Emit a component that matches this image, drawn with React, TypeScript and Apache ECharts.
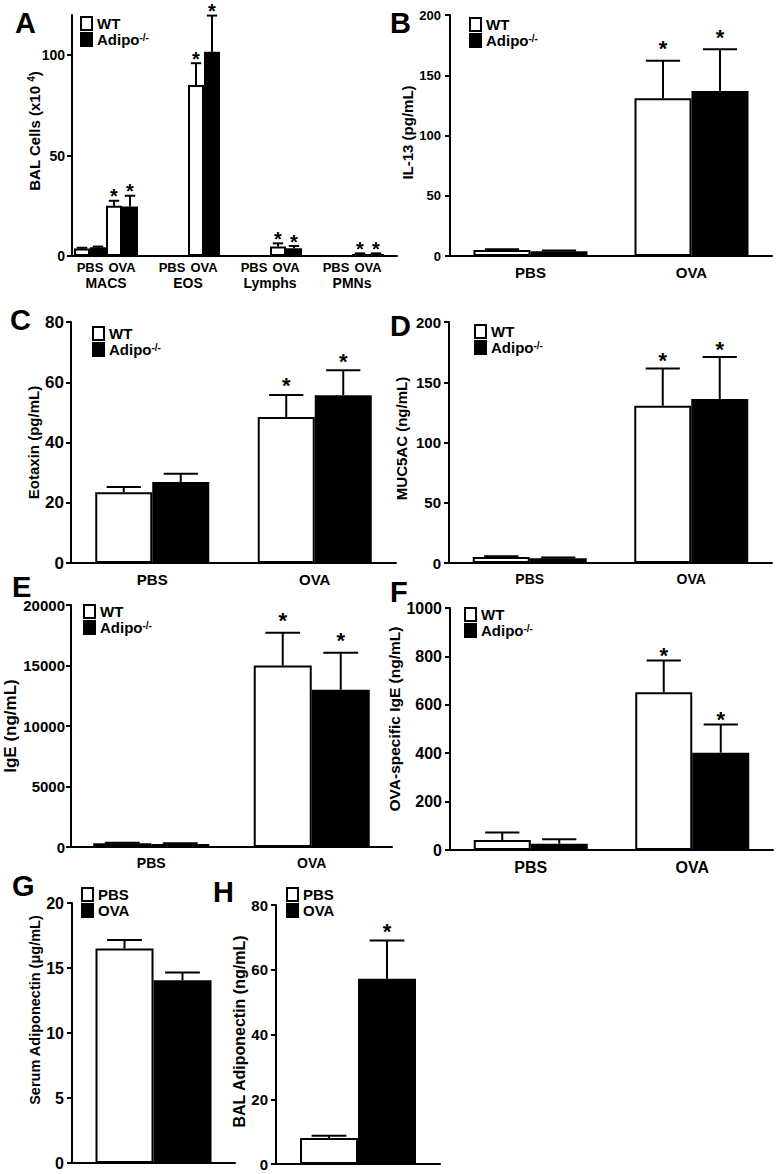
import { useEffect, useRef } from "react";
import * as echarts from "echarts";

const FONT = '"Liberation Sans", Arial, Helvetica, sans-serif';

// ---------------- DATA ----------------
const TREATMENTS = ["PBS", "OVA"];
const GENOTYPES = ["WT", "Adipo-/-"];
const CHALLENGE = ["PBS", "OVA"];

// Panel A: BAL cells (x10^4), per cell type, [PBS, OVA]
const A_GROUPS = ["MACS", "EOS", "Lymphs", "PMNs"];
const A_WT_MEAN = [[3.7, 25.0], [0, 85.2], [0, 4.7], [0, 1.0]];
const A_WT_SEM = [[0.4, 2.5], [0, 10.8], [0, 1.6], [0, 0.3]];
const A_KO_MEAN = [[4.3, 24.7], [0, 101.7], [0, 3.8], [0, 1.0]];
const A_KO_SEM = [[0.4, 5.3], [0, 18.0], [0, 1.2], [0, 0.3]];
const A_WT_STAR = [[0, 1], [0, 1], [0, 1], [0, 1]];
const A_KO_STAR = [[0, 1], [0, 1], [0, 1], [0, 1]];
const A_Y_TICKS = [0, 50, 100];

// Panel B: IL-13 (pg/mL)
const B_WT_MEAN = [5, 131];
const B_WT_SEM = [0.7, 31];
const B_KO_MEAN = [4, 137];
const B_KO_SEM = [0.6, 34.5];
const B_WT_STAR = [0, 1];
const B_KO_STAR = [0, 1];

// Panel C: Eotaxin (pg/mL)
const C_WT_MEAN = [23.5, 48.5];
const C_WT_SEM = [1.7, 7.3];
const C_KO_MEAN = [26.9, 55.7];
const C_KO_SEM = [2.7, 8.3];
const C_WT_STAR = [0, 1];
const C_KO_STAR = [0, 1];

// Panel D: MUC5AC (ng/mL)
const D_WT_MEAN = [5, 130.5];
const D_WT_SEM = [0.6, 31];
const D_KO_MEAN = [4, 136];
const D_KO_SEM = [0.6, 35];
const D_WT_STAR = [0, 1];
const D_KO_STAR = [0, 1];

// Panel E: IgE (ng/mL)
const E_WT_MEAN = [300, 15000];
const E_WT_SEM = [60, 2700];
const E_KO_MEAN = [250, 13000];
const E_KO_SEM = [60, 3050];
const E_WT_STAR = [0, 1];
const E_KO_STAR = [0, 1];

// Panel F: OVA-specific IgE (ng/mL)
const F_WT_MEAN = [41, 652];
const F_WT_SEM = [31, 131];
const F_KO_MEAN = [26, 402];
const F_KO_SEM = [18, 117];
const F_WT_STAR = [0, 1];
const F_KO_STAR = [0, 1];

// Panel G: Serum adiponectin (ug/mL)  [PBS, OVA]
const G_MEAN = [16.5, 14.05];
const G_SEM = [0.65, 0.6];
const G_STAR = [0, 0];

// Panel H: BAL adiponectin (ng/mL)  [PBS, OVA]
const H_MEAN = [8.0, 57.2];
const H_SEM = [0.7, 11.8];
const H_STAR = [0, 1];

// ---------------- STYLE HELPERS ----------------
const BLACK = "#000000";
const textBase = { color: BLACK, fontFamily: FONT, fontWeight: "bold" as const };
const supRich = (size: number) => ({
  b: { ...textBase, fontSize: size },
  sup: { ...textBase, fontSize: Math.round(size * 0.68), verticalAlign: "top" as const },
});

const whiteBar = { color: "#ffffff", borderColor: BLACK, borderWidth: 2 };
const blackBar = { color: BLACK, borderColor: BLACK, borderWidth: 2 };

function errorSeries(axisIndex: number, data: number[][], barW: number, capRatio: number, starGap: number, starSize: number) {
  return {
    type: "custom",
    xAxisIndex: axisIndex,
    yAxisIndex: axisIndex,
    z: 5,
    silent: true,
    data,
    renderItem: (_params: any, api: any) => {
      const c = api.value(0);
      const m = api.value(1);
      const s = api.value(2);
      const st = api.value(3);
      const side = api.value(4);
      const base = api.coord([c, m]);
      const top = api.coord([c, m + s]);
      const x = base[0] + (side * barW) / 2;
      const half = (barW * capRatio) / 2;
      const children: any[] = [];
      if (s > 0) {
        children.push({
          type: "line",
          shape: { x1: x, y1: base[1], x2: x, y2: top[1] },
          style: { stroke: BLACK, lineWidth: 2 },
        });
        children.push({
          type: "line",
          shape: { x1: x - half, y1: top[1], x2: x + half, y2: top[1] },
          style: { stroke: BLACK, lineWidth: 2 },
        });
      }
      if (st) {
        children.push({
          type: "text",
          x,
          y: top[1] - starGap + 0.23 * starSize,
          style: {
            text: "*",
            fill: BLACK,
            fontSize: starSize,
            lineHeight: 14,
            fontWeight: "bold",
            fontFamily: FONT,
            align: "center",
            verticalAlign: "middle",
          },
        });
      }
      return { type: "group", children };
    },
  };
}

function errData(means: number[], sems: number[], stars: number[], side: number) {
  return means.map((m, i) => [i, m, sems[i], stars[i], side]);
}

function yAxisOf(grid: number, o: any) {
  const shift = o.nameShift || 0;
  const label: any = {
    ...textBase,
    fontSize: o.tickFont,
    margin: o.margin || 8,
    formatter: (v: number) => String(v),
  };
  const tick: any = { show: true, length: 5, lineStyle: { color: BLACK, width: 2 } };
  if (o.ticks) {
    label.customValues = o.ticks;
    tick.customValues = o.ticks;
  }
  const axis: any = {
    type: "value",
    gridIndex: grid,
    min: 0,
    max: o.max,
    axisLine: { show: true, lineStyle: { color: BLACK, width: 2 } },
    axisTick: tick,
    splitLine: { show: false },
    axisLabel: label,
  };
  if (o.name) {
    axis.name = o.name;
    axis.nameLocation = "middle";
    axis.nameGap = o.nameGap;
    axis.nameRotate = 90;
    axis.nameTextStyle = {
      color: BLACK,
      fontFamily: FONT,
      fontWeight: "bold",
      fontSize: o.nameFont,
      padding: [0, 0, 0, 2 * shift],
    };
  }
  if (o.interval) axis.interval = o.interval;
  return axis;
}

function legendOf(left: number, top: number, data: string[]) {
  return {
    left,
    top,
    orient: "vertical",
    icon: "rect",
    itemWidth: 11,
    itemHeight: 13,
    itemGap: 1,
    padding: 0,
    selectedMode: false,
    data,
    formatter: (name: string) => (name === "Adipo-/-" ? "{b|Adipo}{sup|-/-}" : "{b|" + name + "}"),
    textStyle: { ...textBase, fontSize: 15, rich: supRich(15) },
  };
}

function buildOption() {
  const grid: any[] = [];
  const xAxis: any[] = [];
  const yAxis: any[] = [];
  const series: any[] = [];
  const legend: any[] = [];

  // ---- Two-group panels B-F ----
  const panels = [
    { left: 450, top: 15, width: 322, height: 241, max: 200, interval: 50, name: "IL-13 (pg/mL)", nameGap: 33, barW: 57, gap: 17, lg: [469, 17],
      tickFont: 13, nameFont: 15, catFont: 15, margin: 9, nameShift: 3,
      wt: B_WT_MEAN, wts: B_WT_SEM, wst: B_WT_STAR, ko: B_KO_MEAN, kos: B_KO_SEM, kst: B_KO_STAR },
    { left: 71, top: 322, width: 325, height: 241, max: 80, interval: 20, name: "Eotaxin (pg/mL)", nameGap: 24, barW: 57, gap: 14, lg: [92, 326],
      tickFont: 17, nameFont: 15, catFont: 15, margin: 7, nameShift: 0,
      wt: C_WT_MEAN, wts: C_WT_SEM, wst: C_WT_STAR, ko: C_KO_MEAN, kos: C_KO_SEM, kst: C_KO_STAR },
    { left: 449, top: 322, width: 323, height: 241, max: 200, interval: 50, name: "MUC5AC (ng/mL)", nameGap: 40, barW: 57, gap: 13, lg: [474, 324],
      tickFont: 15, nameFont: 15, catFont: 14, margin: 8, nameShift: 4,
      wt: D_WT_MEAN, wts: D_WT_SEM, wst: D_WT_STAR, ko: D_KO_MEAN, kos: D_KO_SEM, kst: D_KO_STAR },
    { left: 71, top: 605, width: 321, height: 242, max: 20000, interval: 5000, name: "IgE (ng/mL)", nameGap: 51, barW: 58, gap: 17, lg: [83, 604],
      tickFont: 15, nameFont: 17, catFont: 14, margin: 6, nameShift: 0,
      wt: E_WT_MEAN, wts: E_WT_SEM, wst: E_WT_STAR, ko: E_KO_MEAN, kos: E_KO_SEM, kst: E_KO_STAR },
    { left: 450, top: 608, width: 323, height: 242, max: 1000, interval: 200, name: "OVA-specific IgE (ng/mL)", nameGap: 41, barW: 57, gap: 10, lg: [464, 607],
      tickFont: 16, nameFont: 15.5, catFont: 16, margin: 8, nameShift: 10,
      wt: F_WT_MEAN, wts: F_WT_SEM, wst: F_WT_STAR, ko: F_KO_MEAN, kos: F_KO_SEM, kst: F_KO_STAR },
  ];
  panels.forEach((p) => {
    const idx = grid.length;
    grid.push({ left: p.left, top: p.top, width: p.width, height: p.height });
    xAxis.push({
      type: "category",
      gridIndex: idx,
      data: TREATMENTS,
      axisLine: { show: true, lineStyle: { color: BLACK, width: 2 } },
      axisTick: { show: false },
      axisLabel: { ...textBase, fontSize: p.catFont, margin: 9, interval: 0 },
    });
    yAxis.push(yAxisOf(idx, p));
    series.push({ type: "bar", name: GENOTYPES[0], xAxisIndex: idx, yAxisIndex: idx, data: p.wt, barWidth: p.barW, barGap: "0%", itemStyle: whiteBar });
    series.push({ type: "bar", name: GENOTYPES[1], xAxisIndex: idx, yAxisIndex: idx, data: p.ko, barWidth: p.barW, barGap: "0%", itemStyle: blackBar });
    series.push(errorSeries(idx, [
      ...errData(p.wt, p.wts, p.wst, -1),
      ...errData(p.ko, p.kos, p.kst, 1),
    ], p.barW, 0.6, p.gap, 22));
    legend.push(legendOf(p.lg[0], p.lg[1], GENOTYPES));
  });

  // ---- Single-group panels G, H ----
  const single = [
    { left: 72, top: 903, width: 163, height: 260, max: 20, interval: 5, name: "Serum Adiponectin (\u03bcg/mL)", nameGap: 28, barW: 58, gap: 14, lg: [81, 887],
      tickFont: 16, nameFont: 14.5, margin: 8, nameShift: 23, mean: G_MEAN, sem: G_SEM, star: G_STAR },
    { left: 276, top: 905, width: 164, height: 259, max: 80, interval: 20, name: "BAL Adiponectin (ng/mL)", nameGap: 27, barW: 58, gap: 14, lg: [286, 887],
      tickFont: 15, nameFont: 16, margin: 8, nameShift: 3, mean: H_MEAN, sem: H_SEM, star: H_STAR },
  ];
  single.forEach((p) => {
    const idx = grid.length;
    grid.push({ left: p.left, top: p.top, width: p.width, height: p.height });
    xAxis.push({
      type: "category",
      gridIndex: idx,
      data: [""],
      axisLine: { show: true, lineStyle: { color: BLACK, width: 2 } },
      axisTick: { show: false },
      axisLabel: { show: false },
    });
    yAxis.push(yAxisOf(idx, p));
    series.push({ type: "bar", name: CHALLENGE[0], xAxisIndex: idx, yAxisIndex: idx, data: [p.mean[0]], barWidth: p.barW, barGap: "0%", itemStyle: whiteBar });
    series.push({ type: "bar", name: CHALLENGE[1], xAxisIndex: idx, yAxisIndex: idx, data: [p.mean[1]], barWidth: p.barW, barGap: "0%", itemStyle: blackBar });
    series.push(errorSeries(idx, [
      [0, p.mean[0], p.sem[0], p.star[0], -1],
      [0, p.mean[1], p.sem[1], p.star[1], 1],
    ], p.barW, 0.6, p.gap, 22));
    legend.push(legendOf(p.lg[0], p.lg[1], CHALLENGE));
  });

  // ---- Panel A (master axes grid + one grid per cell type) ----
  const aTop = 15;
  const aH = 241;
  const master = grid.length;
  grid.push({ left: 72, top: aTop, width: 325, height: aH });
  xAxis.push({
    type: "category",
    gridIndex: master,
    data: [""],
    axisLine: { show: true, lineStyle: { color: BLACK, width: 2 } },
    axisTick: { show: false },
    axisLabel: { show: false },
  });
  yAxis.push(yAxisOf(master, { max: 120, ticks: A_Y_TICKS, tickFont: 14, margin: 7 }));
  A_GROUPS.forEach((g, gi) => {
    const idx = grid.length;
    grid.push({ left: 74 + 82 * gi, top: aTop, width: 64, height: aH });
    xAxis.push({
      type: "category",
      gridIndex: idx,
      data: TREATMENTS,
      axisLine: { show: false },
      axisTick: { show: false },
      axisLabel: { ...textBase, fontSize: 13, margin: 5, interval: 0 },
      name: g,
      nameLocation: "middle",
      nameGap: 20,
      nameTextStyle: { ...textBase, fontSize: 14 },
    });
    yAxis.push({ type: "value", gridIndex: idx, min: 0, max: 120, show: false });
    series.push({
      type: "bar", name: GENOTYPES[0], xAxisIndex: idx, yAxisIndex: idx,
      data: A_WT_MEAN[gi], barWidth: 16, barGap: "0%", itemStyle: whiteBar,
    });
    series.push({
      type: "bar", name: GENOTYPES[1], xAxisIndex: idx, yAxisIndex: idx,
      data: A_KO_MEAN[gi], barWidth: 16, barGap: "0%", itemStyle: blackBar,
    });
    series.push(errorSeries(idx, [
      ...errData(A_WT_MEAN[gi], A_WT_SEM[gi], A_WT_STAR[gi], -1),
      ...errData(A_KO_MEAN[gi], A_KO_SEM[gi], A_KO_STAR[gi], 1),
    ], 16, 0.65, 9, 20));
  });
  legend.push(legendOf(80, 16, GENOTYPES));

  const letters = [
    ["A", 15, 23], ["B", 390, 23], ["C", 10, 320], ["D", 390, 326],
    ["E", 12, 587], ["F", 390, 592], ["G", 12, 886], ["H", 213, 892],
  ];
  const graphic: any[] = letters.map(([t, x, y]) => ({
    type: "text",
    x,
    y,
    style: { text: t, fill: BLACK, fontSize: 29, fontWeight: "bold", fontFamily: FONT, verticalAlign: "middle" },
  }));
  // Panel A y-axis title (with superscript exponent)
  graphic.push({
    type: "text",
    x: 34,
    y: 131,
    rotation: Math.PI / 2,
    style: {
      text: "{b|BAL Cells (x10 }{s|4}{b|)}",
      align: "center",
      verticalAlign: "middle",
      fill: BLACK,
      fontSize: 15,
      fontWeight: "bold",
      fontFamily: FONT,
      rich: {
        b: { fill: BLACK, fontSize: 15, fontWeight: "bold", fontFamily: FONT },
        s: { fill: BLACK, fontSize: 10, fontWeight: "bold", fontFamily: FONT, verticalAlign: "top" },
      },
    },
  });

  return {
    animation: false,
    backgroundColor: "#ffffff",
    grid,
    xAxis,
    yAxis,
    series,
    legend,
    graphic,
  };
}

export default function App() {
  const ref = useRef<HTMLDivElement>(null);
  useEffect(() => {
    if (!ref.current) return;
    const chart = echarts.init(ref.current, undefined, { renderer: "svg" });
    chart.setOption(buildOption() as any);
    return () => chart.dispose();
  }, []);
  return (
    <div
      ref={ref}
      style={{ position: "absolute", left: 0, top: 0, width: 779, height: 1174, background: "#ffffff" }}
    />
  );
}
